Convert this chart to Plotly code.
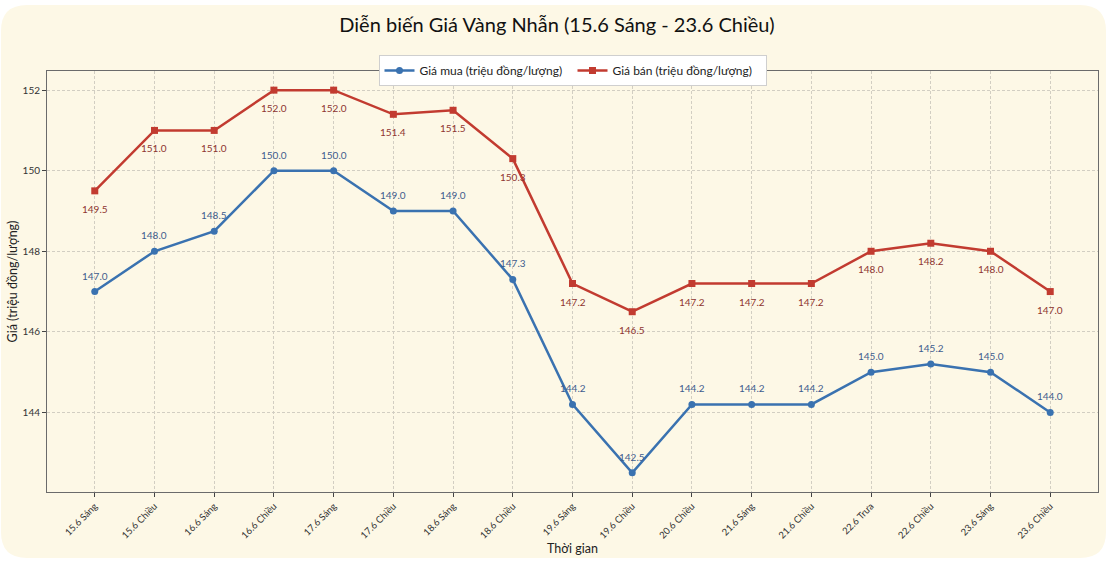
import plotly.graph_objects as go

categories = ["15.6 Sáng", "15.6 Chiều", "16.6 Sáng", "16.6 Chiều", "17.6 Sáng", "17.6 Chiều",
              "18.6 Sáng", "18.6 Chiều", "19.6 Sáng", "19.6 Chiều", "20.6 Chiều", "21.6 Sáng",
              "21.6 Chiều", "22.6 Trưa", "22.6 Chiều", "23.6 Sáng", "23.6 Chiều"]
gia_mua = [147.0, 148.0, 148.5, 150.0, 150.0, 149.0, 149.0, 147.3, 144.2, 142.5,
           144.2, 144.2, 144.2, 145.0, 145.2, 145.0, 144.0]
gia_ban = [149.5, 151.0, 151.0, 152.0, 152.0, 151.4, 151.5, 150.3, 147.2, 146.5,
           147.2, 147.2, 147.2, 148.0, 148.2, 148.0, 147.0]
y_ticks = [144, 146, 148, 150, 152]

W, H = 1114, 572
ML, MR, MT, MB = 47, 16, 71, 80
PW, PH = W - ML - MR, H - MT - MB

FONT = "Lato"
CREAM = "#FDF8E6"
BLUE = "#3A72B0"
RED = "#C23B30"
BLUE_TXT = "#3D5C8E"
RED_TXT = "#8E3430"
GRID = "#d2cec2"

idx = list(range(len(categories)))

fig = go.Figure()
fig.add_trace(go.Scatter(x=idx, y=gia_mua, mode="lines+markers", name="Giá mua (triệu đồng/lượng)",
                         line=dict(color=BLUE, width=2.5), marker=dict(symbol="circle", size=7, color=BLUE)))
fig.add_trace(go.Scatter(x=idx, y=gia_ban, mode="lines+markers", name="Giá bán (triệu đồng/lượng)",
                         line=dict(color=RED, width=2.5), marker=dict(symbol="square", size=7, color=RED)))

for i, v in zip(idx, gia_mua):
    fig.add_annotation(x=i, y=v, text=f"{v:.1f}", showarrow=False, yshift=16,
                       font=dict(family=FONT, size=10, color=BLUE_TXT))
for i, v in zip(idx, gia_ban):
    fig.add_annotation(x=i, y=v, text=f"{v:.1f}", showarrow=False, yshift=-18,
                       font=dict(family=FONT, size=10, color=RED_TXT))

def px(x):
    return (x - ML) / PW
def py(y):
    return (H - MB - y) / PH
x0, x1, y0, y1, r = 1, 1106, 5, 558, 26
path = (f"M {px(x0 + r)} {py(y0)} L {px(x1 - r)} {py(y0)} Q {px(x1)} {py(y0)} {px(x1)} {py(y0 + r)} "
        f"L {px(x1)} {py(y1 - r)} Q {px(x1)} {py(y1)} {px(x1 - r)} {py(y1)} "
        f"L {px(x0 + r)} {py(y1)} Q {px(x0)} {py(y1)} {px(x0)} {py(y1 - r)} "
        f"L {px(x0)} {py(y0 + r)} Q {px(x0)} {py(y0)} {px(x0 + r)} {py(y0)} Z")
fig.add_shape(type="path", path=path, xref="paper", yref="paper", layer="below",
              fillcolor=CREAM, line=dict(width=0))

fig.update_layout(
    width=W, height=H,
    margin=dict(l=ML, r=MR, t=MT, b=MB, autoexpand=False),
    paper_bgcolor="white",
    plot_bgcolor="rgba(0,0,0,0)",
    font=dict(family=FONT, color="#222"),
    title=dict(text="Diễn biến Giá Vàng Nhẫn (15.6 Sáng - 23.6 Chiều)", x=0.5, xanchor="center",
               y=1 - 25 / H, yanchor="middle", font=dict(family=FONT, size=20, color="#111")),
    showlegend=True,
    legend=dict(orientation="h", x=0.5, xanchor="center", y=py(55), yanchor="top",
                bgcolor="white", bordercolor="#cfcfcf", borderwidth=1,
                font=dict(family=FONT, size=12, color="#222"),
                entrywidth=148, entrywidthmode="pixels"),
)
fig.update_xaxes(
    range=[-0.8, len(categories) - 1 + 0.8], automargin=False,
    tickmode="array", tickvals=idx, ticktext=categories, tickangle=-45,
    tickfont=dict(family=FONT, size=9.5, color="#333"),
    showgrid=True, gridcolor=GRID, griddash="3px,2px", gridwidth=0.8,
    showline=True, linecolor="#6b6b6b", linewidth=1, mirror=True,
    ticks="outside", ticklen=4, tickcolor="#444", zeroline=False,
    title=dict(text="Thời gian", font=dict(family=FONT, size=12.5, color="#222"), standoff=3),
)
fig.update_yaxes(
    range=[142.025, 152.475], automargin=False,
    tickmode="array", tickvals=y_ticks, ticktext=[str(t) for t in y_ticks],
    tickfont=dict(family=FONT, size=10, color="#333"),
    showgrid=True, gridcolor=GRID, griddash="3px,2px", gridwidth=0.8,
    showline=True, linecolor="#6b6b6b", linewidth=1, mirror=True,
    ticks="outside", ticklen=4, tickcolor="#444", zeroline=False,
    title=dict(text="Giá (triệu đồng/lượng)", font=dict(family=FONT, size=12.5, color="#222"), standoff=2),
)

fig.write_html("out.html")
